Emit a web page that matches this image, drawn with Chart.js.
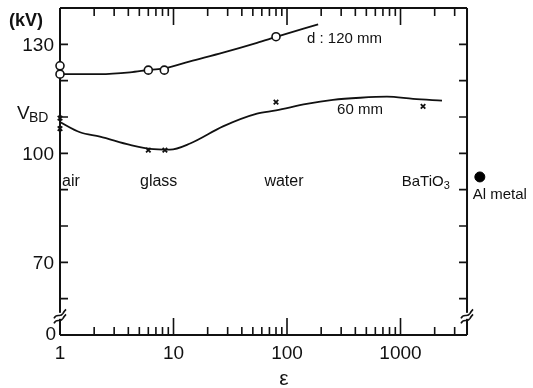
<!DOCTYPE html>
<html>
<head>
<meta charset="utf-8">
<script src="https://cdn.jsdelivr.net/npm/chart.js@4"></script>
<style>
html,body{margin:0;padding:0;background:#fff;}
#wrap{width:533px;height:388px;position:relative;}
</style>
</head>
<body>
<div id="wrap"><canvas id="c" width="533" height="388"></canvas></div>
<script>
// ---- data ----
const curve120X = [1, 2.25, 4.14, 6.2, 8.4, 14.0, 27.3, 54.4, 81.6, 188];
const curve120Y = [121.8, 121.8, 122.3, 123.0, 123.4, 125.3, 127.7, 130.4, 132.1, 135.5];
const points120X = [1, 1, 6, 8.3, 80];
const points120Y = [124.1, 121.8, 122.9, 122.9, 132.1];

const curve60X = [1, 1.5, 2.25, 4.14, 6.2, 9.3, 14.0, 27.3, 54.4, 80, 149, 254, 440, 760, 1290, 2320];
const curve60Y = [108.6, 105.8, 104.6, 102.3, 101.2, 101.0, 102.7, 107.4, 110.9, 111.8, 113.6, 114.7, 115.3, 115.6, 115.0, 114.5];
const points60X = [1, 1, 6, 8.4, 80, 1580];
const points60Y = [109.7, 106.8, 100.9, 100.9, 114.1, 112.9];

const metalX = [5000];
const metalY = [93.5];

const materialNames = ['air', 'glass', 'water', 'BaTiO', 'Al metal'];
const materialX = [1, 7.4, 94, 1700, 5000];
const materialY = [92.2, 92.2, 92.2, 92.2, 88.6];

const seriesNames = ['d : 120 mm', '60 mm'];
const seriesLabelX = [150, 276];
const seriesLabelY = [131.5, 112.0];

const xTickLabels = ['1', '10', '100', '1000'];
const xTickValues = [1, 10, 100, 1000];
const xMinorTicks = [2,3,4,5,6,7,8,9,20,30,40,50,60,70,80,90,200,300,400,500,600,700,800,900,2000,3000];
const xAxisEnd = 3855;   // where the drawn frame stops (axis is broken beyond)
const yTickValues = [60, 70, 80, 90, 100, 110, 120, 130];
const yTickLabels = ['70', '100', '130'];
const yLabelValues = [70, 100, 130];

const FONT = "'Liberation Sans', Arial, Helvetica, sans-serif";

function pts(xs, ys){ return xs.map((x,i)=>({x:x, y:ys[i]})); }

const decor = {
  id: 'decor',
  beforeDatasetsDraw(chart){
    const ctx = chart.ctx, a = chart.chartArea;
    const xs = chart.scales.x, ys = chart.scales.y;
    const L = a.left, R = xs.getPixelForValue(xAxisEnd), T = a.top, B = a.bottom;
    ctx.save();
    ctx.strokeStyle = '#111';
    ctx.fillStyle = '#111';
    ctx.lineWidth = 2;
    ctx.beginPath();
    ctx.moveTo(L, B); ctx.lineTo(R, B);
    ctx.moveTo(L, T); ctx.lineTo(R, T);
    ctx.moveTo(L, T); ctx.lineTo(L, B);
    ctx.moveTo(R, T); ctx.lineTo(R, B);
    ctx.stroke();
    ctx.lineWidth = 1.6;
    ctx.beginPath();
    yTickValues.forEach(v=>{
      const y = ys.getPixelForValue(v);
      ctx.moveTo(L, y); ctx.lineTo(L+8, y);
      ctx.moveTo(R, y); ctx.lineTo(R-8, y);
    });
    xMinorTicks.forEach(v=>{
      const x = xs.getPixelForValue(v);
      ctx.moveTo(x, B); ctx.lineTo(x, B-8);
      ctx.moveTo(x, T); ctx.lineTo(x, T+8);
    });
    xTickValues.forEach(v=>{
      if (v === 1) return;
      const x = xs.getPixelForValue(v);
      ctx.moveTo(x, B); ctx.lineTo(x, B-17);
      ctx.moveTo(x, T); ctx.lineTo(x, T+17);
    });
    ctx.stroke();
    [L, R].forEach(x0=>{
      const yb = ys.getPixelForValue(55);
      ctx.fillStyle = '#fff';
      ctx.fillRect(x0-2, yb-4, 4, 6);
      ctx.lineWidth = 1.6;
      [-2.5, 2.5].forEach(d=>{
        ctx.beginPath();
        ctx.moveTo(x0-6, yb+d+4);
        ctx.bezierCurveTo(x0-3, yb+d-2, x0, yb+d+4, x0+3, yb+d-1);
        ctx.bezierCurveTo(x0+4, yb+d-3, x0+5, yb+d-4, x0+6, yb+d-5);
        ctx.stroke();
      });
    });
    ctx.restore();
  },
  afterDraw(chart){
    const ctx = chart.ctx, a = chart.chartArea;
    const xs = chart.scales.x, ys = chart.scales.y;
    ctx.save();
    ctx.fillStyle = '#111';
    ctx.font = '19px ' + FONT;
    ctx.textAlign = 'right'; ctx.textBaseline = 'middle';
    yLabelValues.forEach((v,i)=>{
      ctx.fillText(yTickLabels[i], a.left-6, ys.getPixelForValue(v)+1);
    });
    ctx.fillText('0', a.left-4, ys.getPixelForValue(50));
    ctx.textAlign = 'center';
    xTickValues.forEach((v,i)=>{
      ctx.fillText(xTickLabels[i], xs.getPixelForValue(v), a.bottom+19);
    });
    ctx.font = '21px ' + FONT;
    ctx.fillText('\u03B5', xs.getPixelForValue(100)-3, a.bottom+44);
    ctx.font = 'bold 18px ' + FONT;
    ctx.textAlign = 'left';
    ctx.fillText('(kV)', 9, 21);
    ctx.font = '19px ' + FONT;
    ctx.textBaseline = 'alphabetic';
    ctx.fillText('V', 17, 119);
    ctx.font = '14px ' + FONT;
    ctx.fillText('BD', 29, 122);
    ctx.textBaseline = 'middle';
    materialNames.forEach((n,i)=>{
      const x = xs.getPixelForValue(materialX[i]);
      const y = ys.getPixelForValue(materialY[i]);
      if (n === 'air') { ctx.font = '16px ' + FONT; ctx.textAlign='left'; ctx.fillText(n, x+2, y); }
      else if (n === 'Al metal') { ctx.font = '15px ' + FONT; ctx.textAlign='center'; ctx.fillText(n, x+20, y); }
      else if (n === 'BaTiO') {
        ctx.font = '15px ' + FONT; ctx.textAlign='center';
        ctx.fillText(n, x-4, y);
        const w = ctx.measureText(n).width;
        ctx.font = '11px ' + FONT; ctx.textAlign='left';
        ctx.fillText('3', x-4+w/2, y+4);
      }
      else { ctx.font = '16px ' + FONT; ctx.textAlign='center'; ctx.fillText(n, x, y); }
    });
    ctx.font = '15px ' + FONT; ctx.textAlign = 'left';
    seriesNames.forEach((n,i)=>{
      ctx.fillText(n, xs.getPixelForValue(seriesLabelX[i]), ys.getPixelForValue(seriesLabelY[i]));
    });
    ctx.restore();
  }
};

new Chart(document.getElementById('c'), {
  type: 'line',
  data: {
    datasets: [
      { data: pts(points120X, points120Y), showLine:false, pointStyle:'circle', pointRadius:4,
        pointBackgroundColor:'#fff', pointBorderColor:'#111', pointBorderWidth:1.6, clip:false, order:0 },
      { data: pts(points60X, points60Y), showLine:false, pointStyle:'crossRot', pointRadius:3.2,
        pointBorderColor:'#111', pointBorderWidth:1.8, clip:false, order:0 },
      { data: pts(metalX, metalY), showLine:false, pointStyle:'circle', pointRadius:5,
        pointBackgroundColor:'#000', pointBorderColor:'#000', clip:false, order:0 },
      { data: pts(curve120X, curve120Y), borderColor:'#111', borderWidth:1.8, pointRadius:0,
        tension:0.4, cubicInterpolationMode:'monotone', fill:false, order:1 },
      { data: pts(curve60X, curve60Y), borderColor:'#111', borderWidth:1.8, pointRadius:0,
        tension:0.4, cubicInterpolationMode:'monotone', fill:false, order:1 }
    ]
  },
  options: {
    responsive:false, animation:false,
    layout:{ padding:{ left:60, right:38, top:8, bottom:53 } },
    plugins:{ legend:{display:false}, tooltip:{enabled:false} },
    scales:{
      x:{ type:'logarithmic', min:1, max:6800, display:true,
          ticks:{display:false}, grid:{display:false, drawTicks:false}, border:{display:false} },
      y:{ type:'linear', min:50, max:140, display:true,
          ticks:{display:false}, grid:{display:false, drawTicks:false}, border:{display:false} }
    }
  },
  plugins:[decor]
});
</script>
</body>
</html>
